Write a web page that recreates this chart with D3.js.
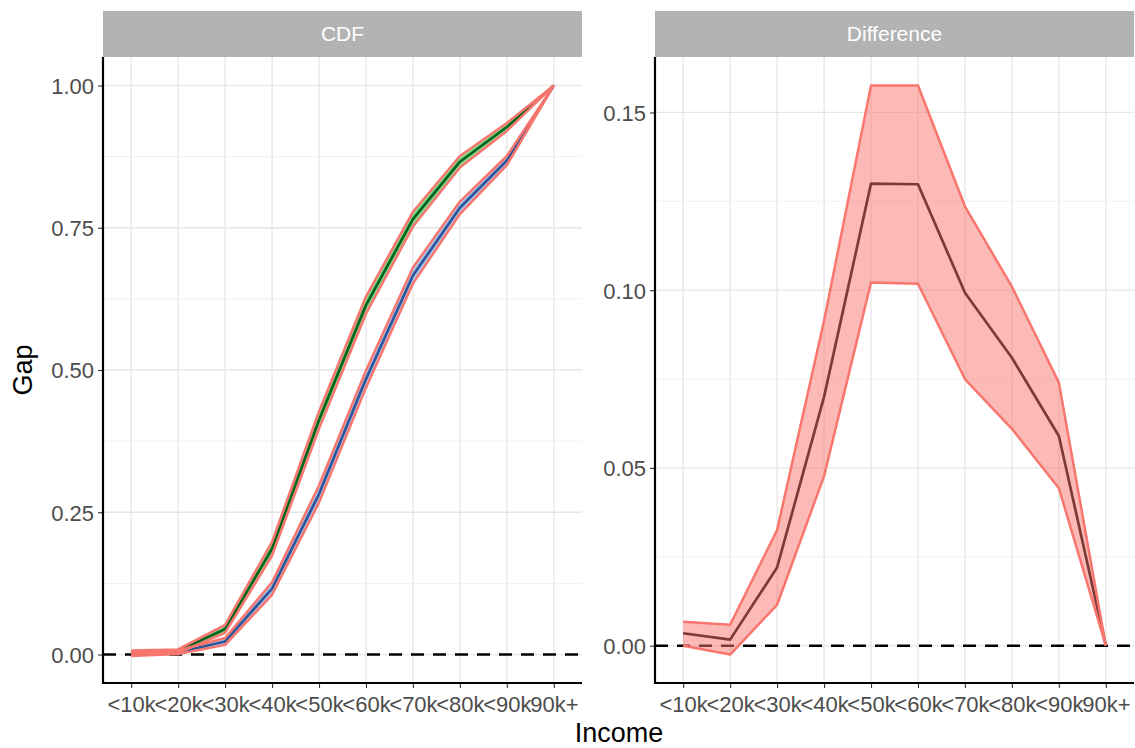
<!DOCTYPE html>
<html>
<head>
<meta charset="utf-8">
<script src="https://cdn.jsdelivr.net/npm/d3@7"></script>
<style>
  html, body { margin: 0; padding: 0; background: #fff; }
  svg { display: block; font-family: "Liberation Sans", Arial, Helvetica, sans-serif; }
</style>
</head>
<body>
<svg id="chart" width="1135" height="748"></svg>
<script>
// Income brackets shared by both panels
const incomeBrackets = ["<10k", "<20k", "<30k", "<40k", "<50k", "<60k", "<70k", "<80k", "<90k", "90k+"];

// CDF panel: two cumulative distributions with a narrow interval each
const cdfUpper      = [0.004, 0.006, 0.045, 0.186, 0.412, 0.614, 0.765, 0.866, 0.927, 1.000];
const cdfUpperHalf  = [0.003, 0.003, 0.007, 0.012, 0.015, 0.015, 0.013, 0.010, 0.007, 0.000];
const cdfLower      = [0.0005, 0.004, 0.023, 0.116, 0.282, 0.484, 0.666, 0.785, 0.868, 1.000];
const cdfLowerHalf  = [0.003, 0.003, 0.006, 0.011, 0.015, 0.015, 0.014, 0.011, 0.008, 0.000];

// Difference panel: gap between the two CDFs with its interval
const gapValue = [0.0035, 0.0017, 0.0220, 0.0700, 0.1300, 0.1298, 0.0993, 0.0810, 0.0590, 0.0000];
const gapHigh  = [0.0067, 0.0059, 0.0325, 0.0914, 0.1576, 0.1576, 0.1236, 0.1010, 0.0740, 0.0000];
const gapLow   = [0.0000, -0.0025, 0.0115, 0.0477, 0.1022, 0.1018, 0.0750, 0.0610, 0.0443, 0.0000];

// Axis tick labels
const cdfTicks = [0, 0.25, 0.5, 0.75, 1];
const gapTicks = [0, 0.05, 0.1, 0.15];

const svg = d3.select("#chart");
const salmon = "#F8766D";
const plotTop = 57, plotBottom = 683, stripTop = 11;

function rows(values, lo, hi) {
  return incomeBrackets.map((c, i) => ({ c, v: values[i], lo: lo[i], hi: hi[i] }));
}

function panel(opts) {
  const { x0, x1, title, domain, ticks, minor, fmt } = opts;
  const g = svg.append("g");
  const x = d3.scalePoint().domain(incomeBrackets).range([x0, x1]).padding(0.6);
  const y = d3.scaleLinear().domain(domain).range([plotBottom, plotTop]);

  // strip
  g.append("rect").attr("x", x0).attr("y", stripTop).attr("width", x1 - x0).attr("height", plotTop - stripTop)
    .attr("fill", "#b3b3b3");
  g.append("text").attr("x", (x0 + x1) / 2).attr("y", (stripTop + plotTop) / 2 + 7)
    .attr("text-anchor", "middle").attr("fill", "#ffffff").attr("font-size", 21).text(title);

  // grid
  const grid = g.append("g");
  minor.forEach(t => grid.append("line").attr("x1", x0).attr("x2", x1).attr("y1", y(t)).attr("y2", y(t))
    .attr("stroke", "#ebebeb").attr("stroke-width", 0.7));
  ticks.forEach(t => grid.append("line").attr("x1", x0).attr("x2", x1).attr("y1", y(t)).attr("y2", y(t))
    .attr("stroke", "#e6e6e6").attr("stroke-width", 1.3));
  incomeBrackets.forEach(c => grid.append("line").attr("x1", x(c)).attr("x2", x(c)).attr("y1", plotTop).attr("y2", plotBottom)
    .attr("stroke", "#e6e6e6").attr("stroke-width", 1.3));

  // zero reference
  g.append("line").attr("x1", x0).attr("x2", x1).attr("y1", y(0)).attr("y2", y(0))
    .attr("stroke", "#000").attr("stroke-width", 2.5).attr("stroke-dasharray", "13,9");

  const plot = g.append("g");
  opts.draw(plot, x, y);

  // axes
  const yAxis = d3.axisLeft(y).tickValues(ticks).tickFormat(fmt).tickSize(5).tickPadding(4);
  const ya = g.append("g").attr("transform", `translate(${x0},0)`).call(yAxis);
  const xAxis = d3.axisBottom(x).tickSize(5).tickPadding(5);
  const xa = g.append("g").attr("transform", `translate(0,${plotBottom})`).call(xAxis);
  [ya, xa].forEach(a => {
    a.select(".domain").remove();
    a.selectAll(".tick line").attr("stroke", "#333").attr("stroke-width", 1.1);
    a.selectAll(".tick text").attr("fill", "#4d4d4d").attr("font-size", 22)
      .attr("font-family", "'Liberation Sans', Arial, sans-serif");
  });
  xa.selectAll(".tick text").attr("dy", "0.85em");
  ya.selectAll(".tick text").attr("dy", "0.36em");
  g.append("line").attr("x1", x0).attr("x2", x0).attr("y1", plotTop).attr("y2", plotBottom + 1)
    .attr("stroke", "#000").attr("stroke-width", 2.2);
  g.append("line").attr("x1", x0 - 1).attr("x2", x1).attr("y1", plotBottom).attr("y2", plotBottom)
    .attr("stroke", "#000").attr("stroke-width", 2.2);
}

function expand(lo, hi) {
  const d = (hi - lo) * 0.05;
  return [lo - d, hi + d];
}

// Left panel: CDF
panel({
  x0: 103, x1: 582, title: "CDF", domain: expand(0, 1),
  ticks: cdfTicks, minor: [0.125, 0.375, 0.625, 0.875], fmt: d3.format(".2f"),
  draw(p, x, y) {
    const series = [
      { data: rows(cdfUpper, cdfUpper.map((v, i) => v - cdfUpperHalf[i]), cdfUpper.map((v, i) => v + cdfUpperHalf[i])),
        fill: "#86d68a", line: "#00641e" },
      { data: rows(cdfLower, cdfLower.map((v, i) => v - cdfLowerHalf[i]), cdfLower.map((v, i) => v + cdfLowerHalf[i])),
        fill: "#a9c6f2", line: "#2f5597" }
    ];
    const area = d3.area().x(d => x(d.c)).y0(d => y(d.lo)).y1(d => y(d.hi));
    const mid = d3.line().x(d => x(d.c)).y(d => y(d.v));
    const loL = d3.line().x(d => x(d.c)).y(d => y(d.lo));
    const hiL = d3.line().x(d => x(d.c)).y(d => y(d.hi));
    series.forEach(s => p.append("path").attr("d", area(s.data)).attr("fill", s.fill));
    series.forEach(s => p.append("path").attr("d", mid(s.data)).attr("fill", "none")
      .attr("stroke", s.line).attr("stroke-width", 2.7).attr("stroke-linejoin", "round"));
    series.forEach(s => {
      [loL, hiL].forEach(l => p.append("path").attr("d", l(s.data)).attr("fill", "none")
        .attr("stroke", salmon).attr("stroke-width", 2.5).attr("stroke-linejoin", "round"));
    });
  }
});

// Right panel: Difference
panel({
  x0: 655, x1: 1134, title: "Difference", domain: expand(d3.min(gapLow), d3.max(gapHigh)),
  ticks: gapTicks, minor: [0.025, 0.075, 0.125], fmt: d3.format(".2f"),
  draw(p, x, y) {
    const data = rows(gapValue, gapLow, gapHigh);
    p.append("path").attr("d", d3.line().x(d => x(d.c)).y(d => y(d.v))(data))
      .attr("fill", "none").attr("stroke", "#000").attr("stroke-width", 2.7).attr("stroke-linejoin", "round");
    p.append("path").attr("d", d3.area().x(d => x(d.c)).y0(d => y(d.lo)).y1(d => y(d.hi))(data))
      .attr("fill", salmon).attr("fill-opacity", 0.5);
    [d => y(d.lo), d => y(d.hi)].forEach(fy => p.append("path")
      .attr("d", d3.line().x(d => x(d.c)).y(fy)(data))
      .attr("fill", "none").attr("stroke", salmon).attr("stroke-width", 2.5).attr("stroke-linejoin", "round"));
  }
});

// axis titles
svg.append("text").attr("x", 619).attr("y", 742).attr("text-anchor", "middle")
  .attr("font-size", 27).attr("fill", "#000").text("Income");
svg.append("text").attr("transform", "translate(32,370) rotate(-90)").attr("text-anchor", "middle")
  .attr("font-size", 27).attr("fill", "#000").text("Gap");
</script>
</body>
</html>
